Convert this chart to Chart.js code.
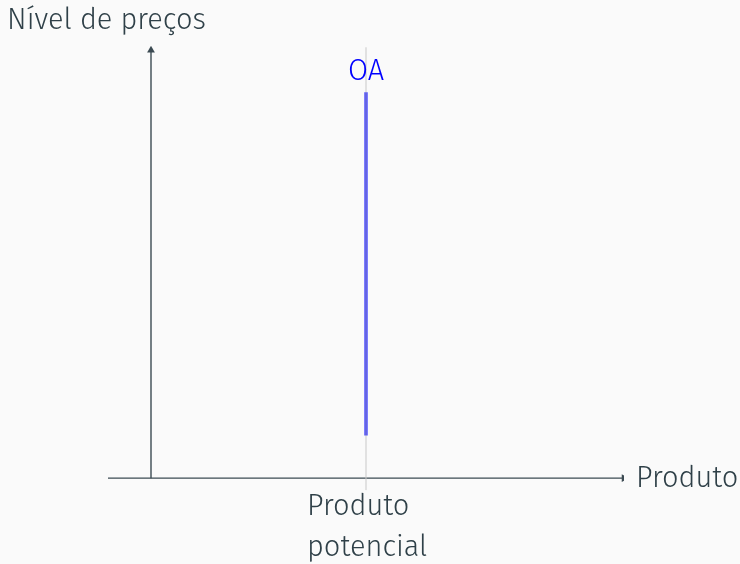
<!DOCTYPE html>
<html>
<head>
<meta charset="utf-8">
<script src="https://cdn.jsdelivr.net/npm/chart.js@4/dist/chart.umd.min.js"></script>
<style>
html,body{margin:0;padding:0;background:#fafafa;}
#wrap{width:740px;height:564px;}
</style>
</head>
<body>
<div id="wrap"><canvas id="c" width="740" height="564"></canvas></div>
<script>
// Domain (schematic aggregate supply diagram)
const xAxisLine = [{x:-1, y:0}, {x:11, y:0}];
const yAxisLine = [{x:0, y:0}, {x:0, y:10}];
const potentialOutput = 5;
const guideLine = [{x:potentialOutput, y:-0.28}, {x:potentialOutput, y:10.07}];
const oaLine = [{x:potentialOutput, y:1.0}, {x:potentialOutput, y:9.02}];
const labels = {
  yTitle: "Nível de preços",
  xTitle: "Produto",
  potential: ["Produto", "potencial"],
  oa: "OA"
};

const FONT = "'Fira Sans','Open Sans','Noto Sans',sans-serif";
const TEXT = "#2f4048";
const AXIS = "#3b4a52";

const labelPlugin = {
  id: 'labels',
  afterDatasetsDraw(chart){
    const ctx = chart.ctx;
    const xs = chart.scales.x, ys = chart.scales.y;
    ctx.save();
    ctx.font = "300 29px " + FONT;
    ctx.fillStyle = TEXT;
    ctx.textBaseline = "middle";
    ctx.textAlign = "left";
    // y title
    ctx.fillText(labels.yTitle, 7, 21);
    // x title
    ctx.fillText(labels.xTitle, xs.getPixelForValue(11) + 12, ys.getPixelForValue(0) + 1);
    // potential output
    const px = xs.getPixelForValue(potentialOutput);
    ctx.fillText(labels.potential[0], px - 59, 507);
    ctx.fillText(labels.potential[1], px - 59, 548);
    // OA label
    ctx.textAlign = "center";
    ctx.fillStyle = "#0000ff";
    ctx.fillText(labels.oa, px, ys.getPixelForValue(9.5));
    ctx.restore();
  }
};

new Chart(document.getElementById('c'), {
  type: 'scatter',
  data: {
    datasets: [
      {data: guideLine, showLine:true, borderColor:'#c8c8c8', borderWidth:1, pointRadius:0},
      {data: xAxisLine, showLine:true, borderColor:AXIS, borderWidth:1.4, backgroundColor:AXIS,
        pointRadius:[0,4.5], pointStyle:'triangle', rotation:90, pointBorderWidth:0},
      {data: yAxisLine, showLine:true, borderColor:AXIS, borderWidth:1.4, backgroundColor:AXIS,
        pointRadius:[0,4.5], pointStyle:'triangle', rotation:0, pointBorderWidth:0},
      {data: oaLine, showLine:true, borderColor:'#0000ff', borderWidth:3, pointRadius:0}
    ]
  },
  options: {
    responsive:false,
    animation:false,
    layout:{padding:{left:108, right:116, top:46, bottom:73}},
    plugins:{legend:{display:false}, tooltip:{enabled:false}},
    scales:{
      x:{type:'linear', min:-1, max:11, display:false},
      y:{type:'linear', min:-0.3, max:10.1, display:false}
    }
  },
  plugins:[labelPlugin]
});
</script>
</body>
</html>
